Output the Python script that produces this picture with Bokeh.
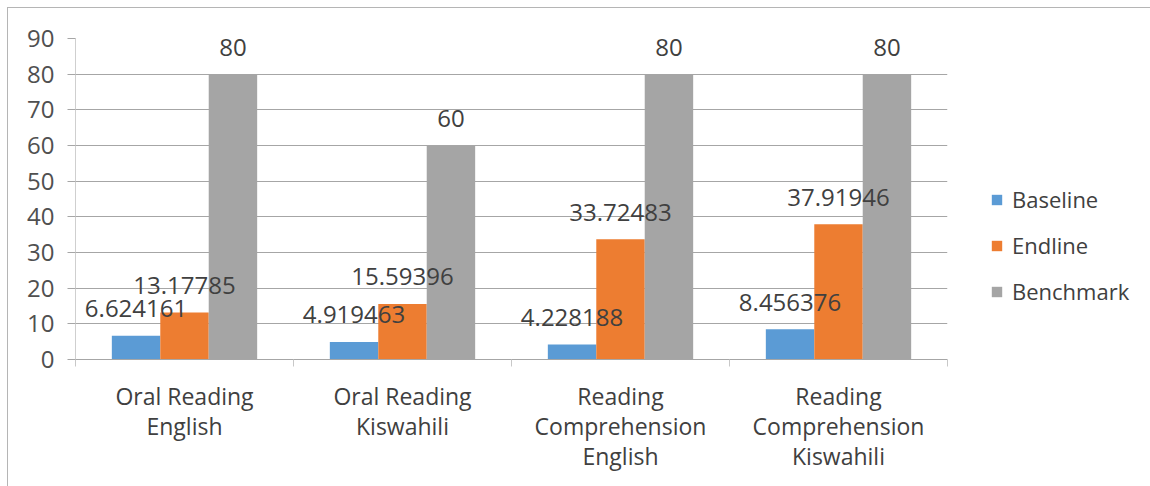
from bokeh.plotting import figure
from bokeh.models import (ColumnDataSource, FixedTicker, Range1d, LabelSet,
                          Legend, LegendItem)
from bokeh.core.properties import value
from bokeh.transform import dodge
from bokeh.embed import file_html
from bokeh.resources import INLINE

# ---- data ----
categories = ["Oral Reading\nEnglish", "Oral Reading\nKiswahili",
              "Reading\nComprehension\nEnglish", "Reading\nComprehension\nKiswahili"]
baseline = [6.624161, 4.919463, 4.228188, 8.456376]
endline = [13.17785, 15.59396, 33.72483, 37.91946]
benchmark = [80, 60, 80, 80]
series_names = ["Baseline", "Endline", "Benchmark"]
series_colors = ["#5B9BD5", "#ED7D31", "#A5A5A5"]
y_ticks = [0, 10, 20, 30, 40, 50, 60, 70, 80, 90]

FONT = "Open Sans"
centers = [i + 0.5 for i in range(len(categories))]
bar_w = 1 / 4.5  # three bars plus a 150% gap per category

src = ColumnDataSource(dict(
    x=centers,
    Baseline=baseline,
    Endline=endline,
    Benchmark=benchmark,
    Baseline_txt=[f"{v:.7g}" for v in baseline],
    Endline_txt=[f"{v:.7g}" for v in endline],
    Benchmark_txt=[f"{v:.7g}" for v in benchmark],
))

p = figure(frame_width=872, frame_height=321,
           min_border_left=67, min_border_right=190,
           min_border_top=30, min_border_bottom=127,
           x_range=Range1d(0, len(categories)), y_range=Range1d(0, 90),
           output_backend="svg", toolbar_location=None,
           background_fill_color="white", border_fill_color="white")
p.outline_line_color = None
# thin chart-area border along the top and left
p.styles = {"margin-left": "7px", "margin-top": "7px",
            "border-left": "1px solid #b5b5b5", "border-top": "1px solid #b5b5b5"}

# ---- bars and value labels ----
items = []
for k, (name, color) in enumerate(zip(series_names, series_colors)):
    off = (k - 1) * bar_w
    r = p.vbar(x=dodge("x", off, range=p.x_range), top=name, width=bar_w,
               source=src, fill_color=color, line_color=None)
    items.append(LegendItem(label=name, renderers=[r]))
    labels = LabelSet(x=dodge("x", off, range=p.x_range), y=name, text=f"{name}_txt",
                      source=src, text_align="center", text_baseline="middle",
                      y_offset=27, text_font=value(FONT), text_font_size=value("24px"),
                      text_color=value("#404040"), level="overlay")
    p.add_layout(labels)

# ---- axes ----
p.xgrid.grid_line_color = None
p.ygrid.grid_line_color = "#a6a6a6"
p.ygrid.ticker = FixedTicker(ticks=y_ticks)

yax = p.yaxis[0]
yax.ticker = FixedTicker(ticks=y_ticks)
yax.axis_line_color = "#cfcfcf"
yax.major_tick_line_color = "#a6a6a6"
yax.major_tick_out = 8
yax.major_tick_in = 0
yax.minor_tick_line_color = None
yax.major_label_standoff = 13
yax.major_label_text_font = FONT
yax.major_label_text_font_size = "24px"
yax.major_label_text_color = "#505050"

xax = p.xaxis[0]
xax.ticker = FixedTicker(ticks=centers, minor_ticks=list(range(len(categories) + 1)))
xax.major_label_overrides = {c: lab for c, lab in zip(centers, categories)}
xax.axis_line_color = "#a6a6a6"
xax.major_tick_line_color = None
xax.major_tick_out = 0
xax.minor_tick_line_color = "#c8c8c8"
xax.minor_tick_out = 7
xax.minor_tick_in = 0
xax.major_label_standoff = 13
xax.major_label_text_font = FONT
xax.major_label_text_font_size = "23px"
xax.major_label_text_color = "#404040"
xax.major_label_text_line_height = 0.95

# ---- legend ----
legend = Legend(items=items, location=(43, 53), orientation="vertical",
                label_text_font=FONT, label_text_font_size="22px",
                label_text_color="#404040", glyph_width=13, glyph_height=13,
                label_standoff=9, spacing=16, padding=0, margin=0,
                border_line_color=None, background_fill_alpha=0)
p.add_layout(legend, "right")

open("out.html", "w").write(file_html(p, INLINE))
